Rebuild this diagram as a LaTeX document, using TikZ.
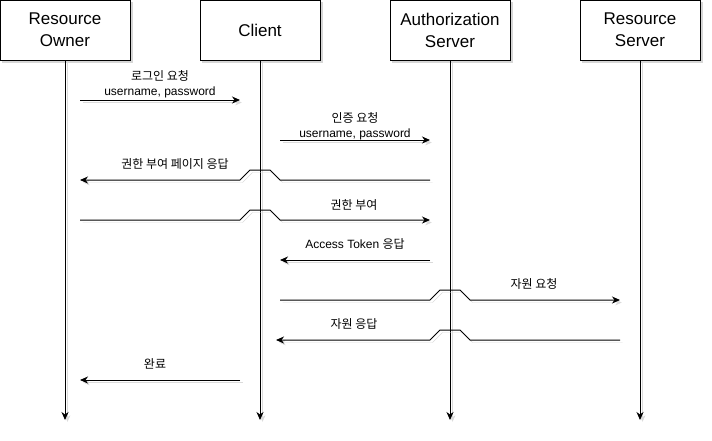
\documentclass[tikz,border=0pt]{standalone}
\usepackage{fontspec}
\setmainfont{Liberation Sans}
\newfontfamily\kr{Noto Sans CJK KR}
\usetikzlibrary{arrows.meta}
\begin{document}
\begin{tikzpicture}[x=1pt,y=-1pt,
  boxshadow/.style={preaction={draw=black!16, fill=black!16, transform canvas={xshift=2.5pt,yshift=-2.5pt}}},
  lineshadow/.style={preaction={draw=black!14, transform canvas={xshift=2.5pt,yshift=-2.5pt}}},
  actor/.style={draw, line width=1pt, fill=white, boxshadow, minimum width=120pt, minimum height=60pt,
    inner sep=0pt, align=center, font=\fontsize{17}{22}\selectfont},
  tip/.style={-{Stealth[length=8pt,width=7pt,inset=2.5pt]}},
  life/.style={line width=1pt, lineshadow, tip},
  msg/.style={line width=1pt, lineshadow, tip, line join=miter},
  lbl/.style={inner sep=0pt, align=center, font=\fontsize{12}{15}\selectfont},
]
\useasboundingbox (0,0) rectangle (712,440);

% participants
\node[actor, minimum width=130pt] (ro) at (65,30)  {Resource\\Owner};
\node[actor] (cl) at (260,30) {Client};
\node[actor] (as) at (450,30) {Authorization\\Server};
\node[actor] (rs) at (640,30) {Resource\\Server};

% lifelines
\coordinate (roEnd) at (65,420);
\coordinate (clEnd) at (260,420);
\coordinate (asEnd) at (450,420);
\coordinate (rsEnd) at (640,420);
\draw[life] (ro) -- (roEnd);
\draw[life] (cl) -- (clEnd);
\draw[life] (as) -- (asEnd);
\draw[life] (rs) -- (rsEnd);

% message end points
\coordinate (m1s) at (80,100);  \coordinate (m1e) at (240,100);
\coordinate (m2s) at (280,140); \coordinate (m2e) at (430,140);
\coordinate (m3s) at (430,180); \coordinate (m3e) at (80,180);
\coordinate (m4s) at (80,220);  \coordinate (m4e) at (430,220);
\coordinate (m5s) at (430,260); \coordinate (m5e) at (280,260);
\coordinate (m6s) at (280,300); \coordinate (m6e) at (620,300);
\coordinate (m7s) at (620,340); \coordinate (m7e) at (276,340);
\coordinate (m8s) at (240,380); \coordinate (m8e) at (80,380);

% messages (with line jumps over crossed lifelines)
\draw[msg] (m1s) -- (m1e);
\draw[msg] (m2s) -- (m2e);
\draw[msg] (m3s) -- ++(-150,0) -- ++(-10,-10) -- ++(-20,0) -- ++(-10,10) -- (m3e);
\draw[msg] (m4s) -- ++(160,0) -- ++(10,-10) -- ++(20,0) -- ++(10,10) -- (m4e);
\draw[msg] (m5s) -- (m5e);
\draw[msg] (m6s) -- ++(150,0) -- ++(10,-10) -- ++(20,0) -- ++(10,10) -- (m6e);
\draw[msg] (m7s) -- ++(-150,0) -- ++(-10,-10) -- ++(-20,0) -- ++(-10,10) -- (m7e);
\draw[msg] (m8s) -- (m8e);

% message labels
\node[lbl] (l1) at (160,84)  {{\kr 로그인 요청}\\username, password};
\node[lbl] (l2) at (355,126) {{\kr 인증 요청}\\username, password};
\node[lbl] (l3) at (175,164) {\kr 권한 부여 페이지 응답};
\node[lbl] (l4) at (354,205) {\kr 권한 부여};
\node[lbl] (l5) at (355,244) {Access Token {\kr 응답}};
\node[lbl] (l6) at (534,284) {\kr 자원 요청};
\node[lbl] (l7) at (354,324) {\kr 자원 응답};
\node[lbl] (l8) at (155,364) {\kr 완료};
\end{tikzpicture}
\end{document}
